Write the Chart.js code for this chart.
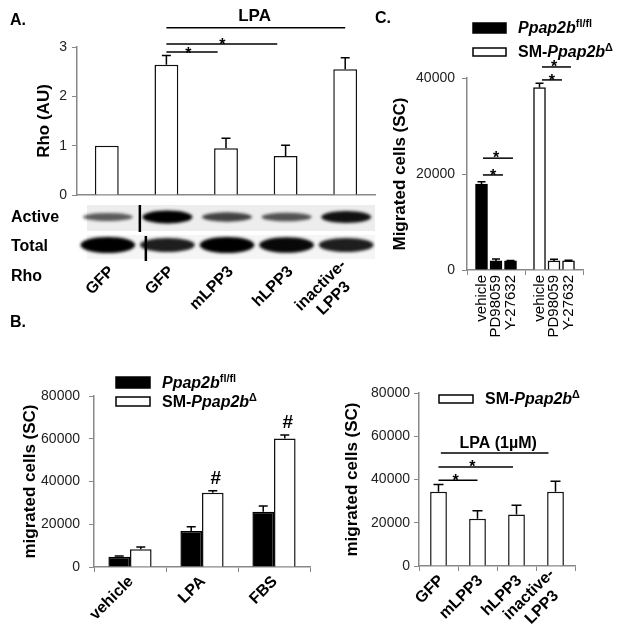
<!DOCTYPE html>
<html>
<head>
<meta charset="utf-8">
<script src="https://cdn.jsdelivr.net/npm/chart.js@4"></script>
<style>
  body { margin: 0; background: #fff; }
  #fig { position: relative; width: 624px; height: 642px; }
  canvas { position: absolute; }
</style>
</head>
<body>
<div id="fig">
  <canvas id="rhoChart" width="380" height="320" style="left:0;top:0"></canvas>
  <canvas id="inhibChart" width="294" height="350" style="left:330px;top:0"></canvas>
  <canvas id="migChart" width="320" height="342" style="left:0;top:300px"></canvas>
  <canvas id="lppChart" width="304" height="342" style="left:320px;top:300px"></canvas>
</div>
<script>
// ---- panel A: Rho activity ----
const rhoLabels = ['GFP', 'GFP', 'mLPP3', 'hLPP3', ['inactive-', 'LPP3']];
const rhoValues = [1.0, 2.64, 0.95, 0.79, 2.55];
const rhoErrors = [0, 0.19, 0.2, 0.22, 0.23];
const activeBand = [0.45, 1.0, 0.6, 0.5, 0.9];
const totalBand = [1.0, 0.8, 1.0, 0.95, 0.8];

// ---- panel C: inhibitors ----
const inhibLabels = ['', 'vehicle', 'PD98059', 'Y-27632', '', 'vehicle', 'PD98059', 'Y-27632', ''];
const inhibFlox = [null, 17900, 1900, 1900, null, null, null, null, null];
const inhibFloxErr = [0, 500, 400, 100, 0, 0, 0, 0, 0];
const inhibKO = [null, null, null, null, null, 38000, 1900, 1900, null];
const inhibKOErr = [0, 0, 0, 0, 0, 900, 350, 150, 0];

// ---- panel B left: migration ----
const migLabels = ['vehicle', 'LPA', 'FBS'];
const migFlox = [4800, 16800, 25800];
const migFloxErr = [300, 2000, 2700];
const migKO = [8300, 34700, 60100];
const migKOErr = [1000, 1000, 1700];

// ---- panel B right: LPP3 rescue ----
const lppLabels = ['GFP', 'mLPP3', 'hLPP3', ['inactive-', 'LPP3']];
const lppValues = [34300, 21900, 23800, 34300];
const lppErrors = [3400, 3600, 4300, 4900];

const floxName = [{ text: 'Ppap2b', italic: true }, { text: 'fl/fl', sup: true }];
const koName = [{ text: 'SM-' }, { text: 'Ppap2b', italic: true }, { text: '\u0394', sup: true }];

const FONT = '"Liberation Sans", Arial, sans-serif';
Chart.defaults.font.family = FONT;
Chart.defaults.color = '#222';

const errorBars = {
  id: 'errorBars',
  afterDatasetsDraw(chart) {
    const ctx = chart.ctx, y = chart.scales.y;
    ctx.save();
    ctx.strokeStyle = '#000';
    ctx.lineWidth = 1.5;
    chart.data.datasets.forEach((ds, di) => {
      if (!ds.errors) return;
      chart.getDatasetMeta(di).data.forEach((bar, i) => {
        const v = ds.data[i], e = ds.errors[i];
        if (v == null || !e) return;
        const top = y.getPixelForValue(v + e);
        const cap = ds.capWidth || 8;
        ctx.beginPath();
        ctx.moveTo(bar.x, bar.y);
        ctx.lineTo(bar.x, top);
        ctx.moveTo(bar.x - cap / 2, top);
        ctx.lineTo(bar.x + cap / 2, top);
        ctx.stroke();
      });
    });
    ctx.restore();
  }
};

function drawRuns(ctx, x, y, runs, size) {
  ctx.textBaseline = 'middle';
  ctx.textAlign = 'left';
  runs.forEach(r => {
    const s = r.sup ? size * 0.68 : size;
    ctx.font = (r.italic ? 'italic ' : '') + 'bold ' + s + 'px ' + FONT;
    ctx.fillText(r.text, x, r.sup ? y - size * 0.3 : y);
    x += ctx.measureText(r.text).width;
  });
}

// lines/texts in data units, legend and labels in canvas pixels
function marks(spec) {
  return {
    id: 'marks',
    afterDraw(chart) {
      const ctx = chart.ctx, xs = chart.scales.x, ys = chart.scales.y;
      ctx.save();
      ctx.strokeStyle = '#000';
      ctx.fillStyle = '#000';
      ctx.lineWidth = 1.5;
      (spec.lines || []).forEach(l => {
        const py = ys.getPixelForValue(l.y);
        ctx.beginPath();
        ctx.moveTo(xs.getPixelForValue(l.from), py);
        ctx.lineTo(xs.getPixelForValue(l.to), py);
        ctx.stroke();
      });
      (spec.texts || []).forEach(t => {
        ctx.font = 'bold ' + t.size + 'px ' + FONT;
        ctx.textAlign = 'center';
        ctx.textBaseline = 'middle';
        const dy = t.text === '*' ? t.size * 0.3 : 0;
        ctx.fillText(t.text, xs.getPixelForValue(t.x), ys.getPixelForValue(t.y) + dy);
      });
      (spec.labels || []).forEach(t => {
        ctx.font = 'bold ' + t.size + 'px ' + FONT;
        ctx.textAlign = 'left';
        ctx.textBaseline = 'middle';
        ctx.fillText(t.text, t.x, t.y);
      });
      (spec.legend || []).forEach(g => {
        ctx.fillStyle = g.fill;
        ctx.fillRect(g.box[0], g.box[1], g.box[2], g.box[3]);
        ctx.lineWidth = 1.5;
        ctx.strokeRect(g.box[0], g.box[1], g.box[2], g.box[3]);
        ctx.fillStyle = '#000';
        drawRuns(ctx, g.box[0] + g.box[2] + 12, g.box[1] + g.box[3] / 2 + 1, g.runs, 16);
      });
      if (spec.xlabels) {
        // slanted category labels, multi-line ones centred in their block
        const o = spec.xlabels;
        ctx.font = 'bold ' + o.size + 'px ' + FONT;
        ctx.textBaseline = 'middle';
        ctx.textAlign = 'center';
        chart.data.labels.forEach((lab, i) => {
          const lines = [].concat(lab);
          const w = Math.max(...lines.map(s => ctx.measureText(s).width));
          ctx.save();
          ctx.translate(xs.getPixelForValue(i) + o.dx, ys.bottom + o.dy);
          ctx.rotate(-Math.PI / 4);
          lines.forEach((s, k) => ctx.fillText(s, -w / 2, (k - (lines.length - 1) / 2) * o.size * 1.15));
          ctx.restore();
        });
      }
      if (spec.extra) spec.extra(chart, ctx);
      ctx.restore();
    }
  };
}

function yAxis(max, step, title, width, titlePad, tickPad) {
  return {
    min: 0, max: max,
    ticks: { stepSize: step, padding: tickPad, font: { size: 14 }, color: '#222', callback: v => String(v) },
    grid: { drawOnChartArea: false, tickLength: 5, color: '#888' },
    border: { color: '#888', width: 1.5 },
    title: { display: true, text: title, color: '#000', font: { size: 17, weight: 'bold' }, padding: { top: titlePad, bottom: 0 } },
    afterFit: s => { s.width = width; }
  };
}

function xAxis(height, showTicks) {
  return {
    grid: { display: showTicks, drawOnChartArea: false, tickLength: 5, color: '#888' },
    border: { display: true, color: '#888', width: 1.5 },
    ticks: { display: false },
    afterFit: s => { s.height = height; }
  };
}

const baseOpts = {
  responsive: false,
  animation: false,
  devicePixelRatio: 1,
  events: []
};

// blot strip under panel A
function drawBlot(chart, ctx) {
  const x = chart.scales.x;
  const lane = x.getPixelForValue(1) - x.getPixelForValue(0);
  ctx.fillStyle = '#ededed';
  ctx.fillRect(87, 205, 288, 26);
  ctx.fillStyle = '#f5f5f5';
  ctx.fillRect(87, 235, 288, 24);
  ctx.filter = 'blur(1.6px)';
  activeBand.forEach((a, i) => {
    ctx.fillStyle = 'rgba(0,0,0,' + (0.3 + 0.7 * a) + ')';
    ctx.beginPath();
    ctx.ellipse(x.getPixelForValue(i) + 1, 217, lane * 0.42, 2 + 4.5 * a, 0, 0, Math.PI * 2);
    ctx.fill();
  });
  totalBand.forEach((a, i) => {
    ctx.fillStyle = 'rgba(0,0,0,' + (0.4 + 0.6 * a) + ')';
    ctx.beginPath();
    ctx.ellipse(x.getPixelForValue(i) + 1, 245, lane * 0.46, 3 + 5 * a, 0, 0, Math.PI * 2);
    ctx.fill();
  });
  ctx.filter = 'none';
  ctx.fillStyle = '#000';
  const split = x.getPixelForValue(0.5);
  ctx.fillRect(split + 2, 205, 2.5, 27);
  ctx.fillRect(split + 8, 236, 2.5, 25);
}

// ---- A ----
new Chart(document.getElementById('rhoChart'), {
  type: 'bar',
  data: {
    labels: rhoLabels,
    datasets: [{
      data: rhoValues, errors: rhoErrors, capWidth: 9,
      backgroundColor: '#fff', borderColor: '#111', borderWidth: 1.5,
      categoryPercentage: 1, barPercentage: 0.4
    }]
  },
  options: {
    ...baseOpts,
    layout: { padding: { top: 47, right: 5, left: 0, bottom: 0 } },
    plugins: { legend: { display: false }, tooltip: { enabled: false } },
    scales: {
      x: xAxis(125, false),
      y: yAxis(3, 1, 'Rho (AU)', 77, 34, 5)
    }
  },
  plugins: [errorBars, marks({
    lines: [
      { from: 1, to: 4, y: 3.39 },
      { from: 1, to: 2.86, y: 3.06 },
      { from: 1, to: 1.86, y: 2.9 }
    ],
    texts: [
      { x: 2.48, y: 3.63, text: 'LPA', size: 17 },
      { x: 1.94, y: 3.12, text: '*', size: 16 },
      { x: 1.37, y: 2.94, text: '*', size: 16 }
    ],
    labels: [
      { x: 10, y: 21, text: 'A.', size: 16 },
      { x: 11, y: 218, text: 'Active', size: 16 },
      { x: 11, y: 247, text: 'Total', size: 16 },
      { x: 11, y: 277, text: 'Rho', size: 16 }
    ],
    xlabels: { size: 16, dx: 5, dy: 74 },
    extra: drawBlot
  })]
});

// ---- C ----
new Chart(document.getElementById('inhibChart'), {
  type: 'bar',
  data: {
    labels: inhibLabels,
    datasets: [
      { data: inhibFlox, errors: inhibFloxErr, capWidth: 8, backgroundColor: '#000', borderColor: '#000', borderWidth: 1.5, barThickness: 12, grouped: false },
      { data: inhibKO, errors: inhibKOErr, capWidth: 8, backgroundColor: '#fff', borderColor: '#111', borderWidth: 1.5, barThickness: 12, grouped: false }
    ]
  },
  options: {
    ...baseOpts,
    layout: { padding: { top: 78, right: 41, left: 0, bottom: 0 } },
    plugins: { legend: { display: false }, tooltip: { enabled: false } },
    scales: {
      x: {
        offset: false,
        grid: { offset: false, drawOnChartArea: false, tickLength: 5, color: c => [0, 4, 8].includes(c.index) ? '#888' : 'rgba(0,0,0,0)' },
        border: { color: '#888', width: 1.5 },
        ticks: { autoSkip: false, minRotation: 90, maxRotation: 90, padding: 0, color: '#000', font: { size: 15 } },
        afterFit: s => { s.height = 80; }
      },
      y: yAxis(40000, 20000, 'Migrated cells (SC)', 137, 60, 7)
    }
  },
  plugins: [errorBars, marks({
    lines: [
      { from: 1.1, to: 2.48, y: 19800 },
      { from: 1.1, to: 3.17, y: 23300 },
      { from: 5.17, to: 6.55, y: 39600 },
      { from: 5.17, to: 7.17, y: 42300 }
    ],
    texts: [
      { x: 1.8, y: 20500, text: '*', size: 16 },
      { x: 2.0, y: 24200, text: '*', size: 16 },
      { x: 5.86, y: 40300, text: '*', size: 16 },
      { x: 6.0, y: 43100, text: '*', size: 16 }
    ],
    labels: [{ x: 45, y: 19, text: 'C.', size: 16 }],
    legend: [
      { box: [143, 23, 33, 10], fill: '#000', runs: floxName },
      { box: [143, 48, 33, 8], fill: '#fff', runs: koName }
    ]
  })]
});

// ---- B left ----
new Chart(document.getElementById('migChart'), {
  type: 'bar',
  data: {
    labels: migLabels,
    datasets: [
      { data: migFlox, errors: migFloxErr, capWidth: 9, backgroundColor: '#000', borderColor: '#000', borderWidth: 1.5, categoryPercentage: 0.6, barPercentage: 1 },
      { data: migKO, errors: migKOErr, capWidth: 9, backgroundColor: '#fff', borderColor: '#111', borderWidth: 1.5, categoryPercentage: 0.6, barPercentage: 1 }
    ]
  },
  options: {
    ...baseOpts,
    layout: { padding: { top: 96, right: 10, left: 0, bottom: 0 } },
    plugins: { legend: { display: false }, tooltip: { enabled: false } },
    scales: {
      x: xAxis(75, true),
      y: yAxis(80000, 20000, 'migrated cells (SC)', 94, 20, 9)
    }
  },
  plugins: [errorBars, marks({
    texts: [
      { x: 1.19, y: 41500, text: '#', size: 19 },
      { x: 2.19, y: 67300, text: '#', size: 19 }
    ],
    labels: [{ x: 10, y: 23, text: 'B.', size: 16 }],
    legend: [
      { box: [116, 77, 34, 11], fill: '#000', runs: floxName },
      { box: [116, 97, 34, 9], fill: '#fff', runs: koName }
    ],
    xlabels: { size: 16, dx: 1, dy: 12 }
  })]
});

// ---- B right ----
new Chart(document.getElementById('lppChart'), {
  type: 'bar',
  data: {
    labels: lppLabels,
    datasets: [{
      data: lppValues, errors: lppErrors, capWidth: 10,
      backgroundColor: '#fff', borderColor: '#111', borderWidth: 1.5,
      categoryPercentage: 1, barPercentage: 0.43
    }]
  },
  options: {
    ...baseOpts,
    layout: { padding: { top: 93, right: 49, left: 0, bottom: 0 } },
    plugins: { legend: { display: false }, tooltip: { enabled: false } },
    scales: {
      x: xAxis(76, true),
      y: yAxis(80000, 20000, 'migrated cells (SC)', 99, 22, 4)
    }
  },
  plugins: [errorBars, marks({
    lines: [
      { from: 0.06, to: 2.82, y: 52300 },
      { from: 0, to: 1.91, y: 45800 },
      { from: 0, to: 1.0, y: 39700 }
    ],
    texts: [
      { x: 1.53, y: 56800, text: 'LPA (1\u00b5M)', size: 16 },
      { x: 0.87, y: 47600, text: '*', size: 16 },
      { x: 0.44, y: 41300, text: '*', size: 16 }
    ],
    legend: [
      { box: [119, 95, 34, 8], fill: '#fff', runs: koName }
    ],
    xlabels: { size: 16, dx: 3, dy: 12 }
  })]
});
</script>
</body>
</html>
